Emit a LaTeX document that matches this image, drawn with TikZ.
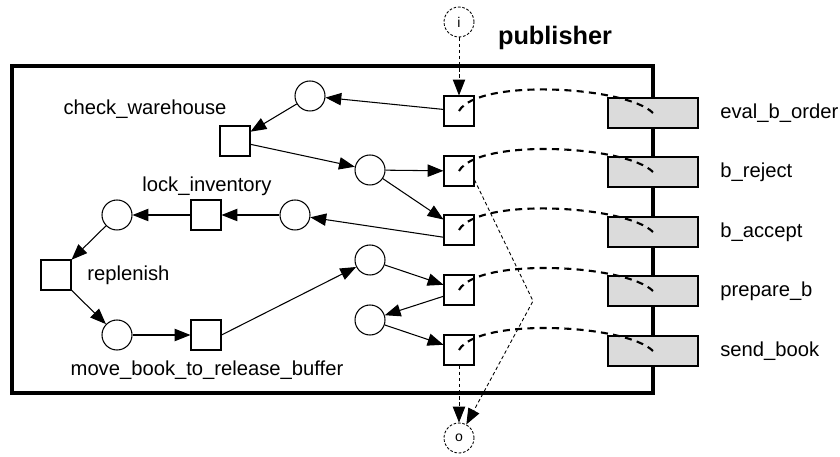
\documentclass[tikz,border=0pt]{standalone}
\usepackage{fontspec}
\setmainfont{Liberation Sans}
\usetikzlibrary{arrows.meta,positioning,calc}

\begin{document}
\begin{tikzpicture}[
    x=0.2mm, y=0.2mm,
    font=\fontsize{11.5}{13}\selectfont,
    place/.style={draw, circle, line width=0.6pt, minimum size=6mm, inner sep=0pt},
    trans/.style={draw, rectangle, line width=0.6pt, minimum size=6mm, inner sep=0pt},
    oper/.style={draw, rectangle, line width=1.2pt, fill=black!14, minimum width=18mm, minimum height=6mm, inner sep=0pt},
    port/.style={draw, circle, dash pattern=on 1.5pt off 1pt, line width=0.5pt, minimum size=6mm, inner sep=0pt, font=\fontsize{8}{9}\selectfont},
    tag/.style={anchor=west, inner sep=0pt},
    arc/.style={-{Triangle[length=9pt,width=7pt]}, line width=0.6pt},
    flow/.style={-{Triangle[length=9pt,width=7pt]}, line width=0.5pt, dash pattern=on 2pt off 1.5pt},
    link/.style={line width=1.2pt, dash pattern=on 4pt off 3pt}
  ]
    \useasboundingbox (0,0) rectangle (840,457);

    % Component frame
    \draw[line width=2pt] (12,64) rectangle (653,391);
    \node[font=\fontsize{14.4}{16}\selectfont\bfseries] (title) at (555,419) {publisher};

    % Interface transitions
    \node[trans] (s1) at (459,346) {};
    \node[trans] (s2) at (459,286) {};
    \node[trans] (s3) at (459,227) {};
    \node[trans] (s4) at (459,167) {};
    \node[trans] (s5) at (459,107) {};

    % Operations on the frame
    \node[oper] (g1) at (653,344) {};
    \node[oper] (g2) at (653,285) {};
    \node[oper] (g3) at (653,225) {};
    \node[oper] (g4) at (653,166) {};
    \node[oper] (g5) at (653,106) {};
    \node[tag] (l1) at (720,344) {eval\_b\_order};
    \node[tag] (l2) at (720,285) {b\_reject};
    \node[tag] (l3) at (720,225) {b\_accept};
    \node[tag] (l4) at (720,166) {prepare\_b};
    \node[tag] (l5) at (720,106) {send\_book};

    % Inner net
    \node[place] (p1) at (310,361) {};
    \node[trans] (tc) at (235,316) {};
    \node[place] (p2) at (370,287) {};
    \node[place] (p3) at (295,242) {};
    \node[trans] (tl) at (206,242) {};
    \node[place] (p4) at (117,242) {};
    \node[trans] (tr) at (56,182) {};
    \node[place] (p5) at (117,122) {};
    \node[trans] (tm) at (206,122) {};
    \node[place] (p6) at (370,197) {};
    \node[place] (p7) at (370,137) {};

    \node (lc) at (145,348) {check\_warehouse};
    \node (ll) at (207,271) {lock\_inventory};
    \node[tag] (lr) at (87,182) {replenish};
    \node (lm) at (207,87) {move\_book\_to\_release\_buffer};

    % Ports
    \node[port] (pin) at (459,435) {i};
    \node[port] (pout) at (459,19) {o};
    \coordinate (kink) at (533,156);

    % Arcs
    \draw[arc] (s1) -- (p1);
    \draw[arc] (p1) -- (tc);
    \draw[arc] (tc) -- (p2);
    \draw[arc] (p2) -- (s2);
    \draw[arc] (p2) -- (s3);
    \draw[arc] (s3.205) -- (p3);
    \draw[arc] (p3) -- (tl);
    \draw[arc] (tl) -- (p4);
    \draw[arc] (p4) -- (tr);
    \draw[arc] (tr) -- (p5);
    \draw[arc] (p5) -- (tm);
    \draw[arc] (tm.east) -- (p6);
    \draw[arc] (p6) -- (s4);
    \draw[arc] (s4.202) -- (p7);
    \draw[arc] (p7) -- (s5);

    % Control flow
    \draw[flow] (pin) -- (s1);
    \draw[flow] (s5) -- (pout);
    \draw[flow] (s2.-30) -- (kink) -- (pout);

    % Links to operations
    \foreach \k in {1,...,5} {
      \draw[link] (s\k.center) to[out=60, in=135, looseness=0.5] (g\k.center);
    }
  \end{tikzpicture}
\end{document}
